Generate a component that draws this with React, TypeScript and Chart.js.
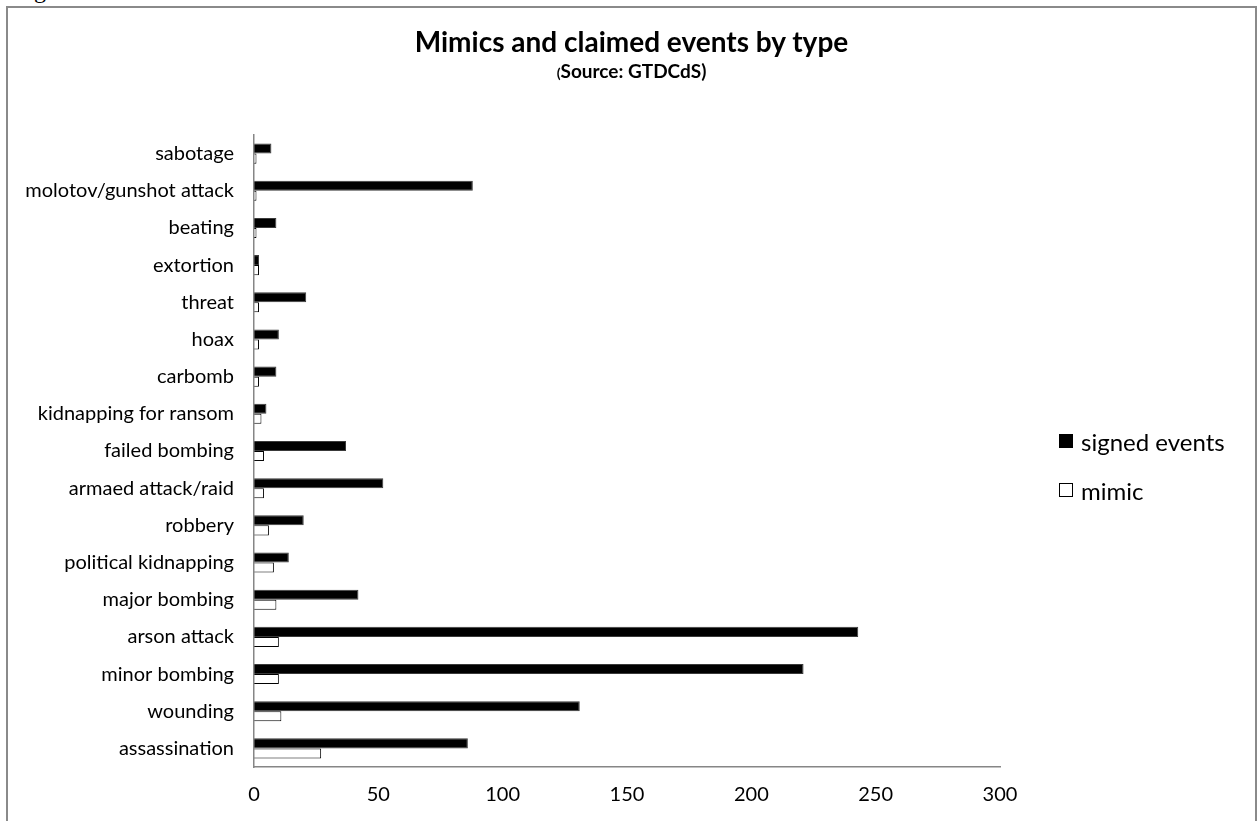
import React, { useEffect, useRef } from "react";
import { Chart, registerables } from "chart.js";

Chart.register(...registerables);

const categories = [
  "sabotage",
  "molotov/gunshot attack",
  "beating",
  "extortion",
  "threat",
  "hoax",
  "carbomb",
  "kidnapping for ransom",
  "failed bombing",
  "armaed attack/raid",
  "robbery",
  "political kidnapping",
  "major bombing",
  "arson attack",
  "minor bombing",
  "wounding",
  "assassination",
];

const signedEvents = [7, 88, 9, 2, 21, 10, 9, 5, 37, 52, 20, 14, 42, 243, 221, 131, 86];
const mimic = [1, 1, 1, 2, 2, 2, 2, 3, 4, 4, 6, 8, 9, 10, 10, 11, 27];

const xTicks = [0, 50, 100, 150, 200, 250, 300];

const titleText = "Mimics and claimed events by type";
const subtitleText = "Source: GTDCdS)";
const seriesNames = ["signed events", "mimic"];

const FONT = "Lato, 'Open Sans', sans-serif";
const AXIS_GRAY = "#868686";

export default function App() {
  const canvasRef = useRef<HTMLCanvasElement | null>(null);

  useEffect(() => {
    if (!canvasRef.current) return;
    const chart = new Chart(canvasRef.current, {
      type: "bar",
      data: {
        labels: categories,
        datasets: [
          {
            label: seriesNames[0],
            data: signedEvents,
            backgroundColor: "#000000",
            borderColor: "#3a3a3a",
            borderWidth: 1,
            categoryPercentage: 0.54,
            barPercentage: 1,
          },
          {
            label: seriesNames[1],
            data: mimic,
            backgroundColor: "#ffffff",
            borderColor: "#000000",
            borderWidth: 1,
            categoryPercentage: 0.54,
            barPercentage: 1,
          },
        ],
      },
      options: {
        indexAxis: "y",
        animation: false,
        responsive: false,
        maintainAspectRatio: false,
        layout: { padding: { left: 0, right: 259, top: 135, bottom: 0 } },
        plugins: {
          legend: { display: false },
          title: { display: false },
          tooltip: { enabled: false },
        },
        scales: {
          x: {
            min: 0,
            max: 300,
            afterBuildTicks: (scale: any) => {
              scale.ticks = xTicks.map((v) => ({ value: v }));
            },
            afterFit: (scale: any) => {
              scale.height = 54;
            },
            grid: { display: false, drawTicks: false },
            border: { display: true, color: AXIS_GRAY, width: 1.5, z: 1 },
            ticks: {
              color: "#000",
              padding: 16,
              font: { family: FONT, size: 20 },
            },
          },
          y: {
            afterFit: (scale: any) => {
              scale.width = 254;
            },
            grid: { display: false, drawTicks: false },
            border: { display: true, color: AXIS_GRAY, width: 1.5, z: 1 },
            ticks: {
              color: "#000",
              padding: 20,
              autoSkip: false,
              font: { family: FONT, size: 20 },
            },
          },
        },
      },
    });
    return () => chart.destroy();
  }, []);

  return (
    <div style={{ position: "absolute", left: 0, top: 0, width: 1259, height: 821, overflow: "hidden", background: "#fff" }}>
      <div
        style={{
          position: "absolute",
          left: 14,
          top: -22,
          fontFamily: "'Liberation Serif', 'DejaVu Serif', serif",
          fontSize: 24,
          lineHeight: "24px",
          color: "#000",
          whiteSpace: "nowrap",
        }}
      >
        Figure
      </div>
      <div
        style={{
          position: "absolute",
          left: 6,
          top: 6,
          width: 1251,
          height: 840,
          border: "2px solid #8a8a8a",
          boxSizing: "border-box",
        }}
      />
      <canvas ref={canvasRef} width={1259} height={821} style={{ position: "absolute", left: 0, top: 0, width: 1259, height: 821 }} />
      <div
        style={{
          position: "absolute",
          left: 0,
          width: 1263,
          top: 25,
          textAlign: "center",
          fontFamily: FONT,
          fontWeight: 700,
          fontSize: 28,
          lineHeight: "32px",
          color: "#000",
        }}
      >
        {titleText}
      </div>
      <div
        style={{
          position: "absolute",
          left: 0,
          width: 1263,
          top: 58,
          textAlign: "center",
          fontFamily: FONT,
          fontWeight: 700,
          fontSize: 19,
          lineHeight: "26px",
          color: "#000",
        }}
      >
        <span style={{ fontSize: 14 }}>(</span>
        {subtitleText}
      </div>
      {seriesNames.map((name, i) => (
        <div
          key={name}
          style={{
            position: "absolute",
            left: 1059,
            top: 427 + i * 49,
            height: 28,
            display: "flex",
            alignItems: "center",
            fontFamily: FONT,
            fontSize: 24,
            color: "#000",
            whiteSpace: "nowrap",
          }}
        >
          <span
            style={{
              display: "inline-block",
              width: 14,
              height: 14,
              boxSizing: "border-box",
              background: i === 0 ? "#000" : "#fff",
              border: "1px solid #000",
              marginRight: 8,
            }}
          />
          {name}
        </div>
      ))}
    </div>
  );
}
